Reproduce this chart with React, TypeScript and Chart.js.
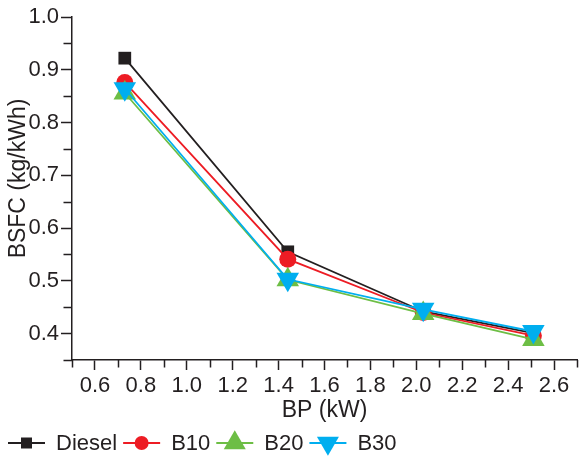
import React, { useEffect, useRef } from 'react';
import { Chart, registerables } from 'chart.js';

Chart.register(...registerables);

// Brake power (kW) at each load step
const BP = [0.73, 1.44, 2.03, 2.51];

// Brake specific fuel consumption (kg/kWh) per fuel
const DIESEL = [0.922, 0.555, 0.442, 0.401];
const B10 = [0.876, 0.541, 0.44, 0.396];
const B20 = [0.856, 0.502, 0.438, 0.389];
const B30 = [0.864, 0.503, 0.446, 0.404];

const SERIES_NAMES = ['Diesel', 'B10', 'B20', 'B30'];
const X_TITLE = 'BP (kW)';
const Y_TITLE = 'BSFC (kg/kWh)';

const X_MIN = 0.5;
const X_MAX = 2.7;
const X_STEP = 0.1;
const Y_MIN = 0.35;
const Y_MAX = 1.0;
const Y_STEP = 0.05;

const INK = '#231f20';
const FONT = '"Liberation Sans", Arial, Helvetica, sans-serif';

type Marker = 'square' | 'circle' | 'up' | 'down';

const STYLES: { color: string; marker: Marker }[] = [
  { color: '#231f20', marker: 'square' },
  { color: '#ed1c24', marker: 'circle' },
  { color: '#6dbe45', marker: 'up' },
  { color: '#00aeef', marker: 'down' },
];

const SERIES = [DIESEL, B10, B20, B30];

const isMajorX = (v: number) => Math.round(v * 10) % 2 === 0;
const isMajorY = (v: number) => Math.round(v * 100) % 10 === 0;

function drawMarker(ctx: CanvasRenderingContext2D, m: Marker, x: number, y: number, s: number) {
  ctx.beginPath();
  if (m === 'square') {
    ctx.rect(x - s / 2, y - s / 2, s, s);
  } else if (m === 'circle') {
    ctx.arc(x, y, s / 2, 0, Math.PI * 2);
  } else {
    const r = s / Math.sqrt(3);
    const dir = m === 'up' ? 1 : -1;
    ctx.moveTo(x, y - dir * r);
    ctx.lineTo(x + s / 2, y + dir * r / 2);
    ctx.lineTo(x - s / 2, y + dir * r / 2);
    ctx.closePath();
  }
  ctx.fill();
}

// Shorter tick marks between the labelled values
const minorTicks = {
  id: 'minorTicks',
  afterDraw(chart: any) {
    const { ctx, scales } = chart;
    const xs = scales.x;
    const ys = scales.y;
    ctx.save();
    ctx.strokeStyle = INK;
    ctx.lineWidth = 1.5;
    ctx.beginPath();
    xs.ticks.forEach((t: any) => {
      if (!isMajorX(t.value)) {
        const px = Math.round(xs.getPixelForValue(t.value)) + 0.5;
        ctx.moveTo(px, xs.top);
        ctx.lineTo(px, xs.top + 7.5);
      }
    });
    ys.ticks.forEach((t: any) => {
      if (!isMajorY(t.value)) {
        const py = Math.round(ys.getPixelForValue(t.value)) + 0.5;
        ctx.moveTo(ys.right, py);
        ctx.lineTo(ys.right - 8.5, py);
      }
    });
    ctx.stroke();
    ctx.restore();
  },
};

// Rotated y-axis title, sitting a little above the axis middle
const yTitle = {
  id: 'yTitle',
  afterDraw(chart: any) {
    const { ctx, chartArea } = chart;
    const cy = (chartArea.top + chartArea.bottom) / 2 - 10;
    ctx.save();
    ctx.translate(19, cy);
    ctx.rotate(-Math.PI / 2);
    ctx.font = `23px ${FONT}`;
    ctx.fillStyle = INK;
    ctx.textAlign = 'center';
    ctx.textBaseline = 'middle';
    ctx.fillText(Y_TITLE, 0, 0);
    ctx.restore();
  },
};

// Horizontal legend with a line segment through each marker
const lineLegend = {
  id: 'lineLegend',
  afterDraw(chart: any) {
    const { ctx } = chart;
    const y = 443;
    let x = 8;
    const lineLen = 37;
    ctx.save();
    ctx.font = `22px ${FONT}`;
    ctx.textBaseline = 'middle';
    ctx.textAlign = 'left';
    SERIES_NAMES.forEach((name, i) => {
      const st = STYLES[i];
      ctx.strokeStyle = st.color;
      ctx.fillStyle = st.color;
      ctx.lineWidth = 1.8;
      ctx.beginPath();
      ctx.moveTo(x, y);
      ctx.lineTo(x + lineLen, y);
      ctx.stroke();
      const size = st.marker === 'square' ? 11 : st.marker === 'circle' ? 14 : 22;
      drawMarker(ctx, st.marker, x + lineLen / 2, y, size);
      x += lineLen + 11;
      ctx.fillStyle = INK;
      ctx.fillText(name, x, y + 1);
      x += ctx.measureText(name).width + 6;
    });
    ctx.restore();
  },
};

export default function App() {
  const ref = useRef<HTMLCanvasElement | null>(null);

  useEffect(() => {
    if (!ref.current) return;
    const datasets = SERIES_NAMES.map((name, i) => {
      const st = STYLES[i];
      const pointStyle = st.marker === 'square' ? 'rect' : st.marker === 'circle' ? 'circle' : 'triangle';
      const radius = st.marker === 'square' ? 9 : st.marker === 'circle' ? 8.5 : 13;
      return {
        label: name,
        data: BP.map((x, j) => ({ x, y: SERIES[i][j] })),
        borderColor: st.color,
        backgroundColor: st.color,
        borderWidth: 1.8,
        pointStyle,
        pointRadius: radius,
        pointRotation: st.marker === 'down' ? 180 : 0,
        pointBorderWidth: 0,
        pointBackgroundColor: st.color,
        tension: 0,
        order: SERIES_NAMES.length - i,
      };
    });

    const chart = new Chart(ref.current, {
      type: 'line',
      data: { datasets: datasets as any },
      options: {
        animation: false,
        responsive: false,
        devicePixelRatio: 1,
        layout: { autoPadding: false, padding: { top: 17, right: 3, left: 0, bottom: 28 } },
        plugins: {
          legend: { display: false },
          tooltip: { enabled: false },
        },
        scales: {
          x: {
            type: 'linear',
            min: X_MIN,
            max: X_MAX,
            afterFit: (s: any) => {
              s.height = 70;
              s.paddingLeft = 0;
              s.paddingRight = 0;
            },
            border: { display: true, color: INK, width: 1.5 },
            grid: {
              display: true,
              drawOnChartArea: false,
              drawTicks: true,
              tickLength: 10,
              tickWidth: 1.5,
              tickColor: (c: any) => (c.tick && isMajorX(c.tick.value) ? INK : 'rgba(0,0,0,0)'),
            },
            ticks: {
              stepSize: X_STEP,
              autoSkip: false,
              maxRotation: 0,
              padding: 3,
              color: INK,
              font: { family: FONT, size: 22 },
              callback: (v: any) => (isMajorX(Number(v)) ? Number(v).toFixed(1) : ''),
            },
            title: {
              display: true,
              text: X_TITLE,
              color: INK,
              font: { family: FONT, size: 23, lineHeight: 1 },
              padding: { top: 0, bottom: 7.5 },
            },
          },
          y: {
            type: 'linear',
            min: Y_MIN,
            max: Y_MAX,
            afterFit: (s: any) => {
              s.width = 72;
              s.paddingTop = 0;
              s.paddingBottom = 0;
            },
            border: { display: true, color: INK, width: 1.5 },
            grid: {
              display: true,
              drawOnChartArea: false,
              drawTicks: true,
              tickLength: 11,
              tickWidth: 1.5,
              tickColor: (c: any) => (c.tick && isMajorY(c.tick.value) ? INK : 'rgba(0,0,0,0)'),
            },
            ticks: {
              stepSize: Y_STEP,
              autoSkip: false,
              padding: 2,
              color: INK,
              font: { family: FONT, size: 22 },
              callback: (v: any) => (isMajorY(Number(v)) ? Number(v).toFixed(1) : ''),
            },
            title: { display: false },
          },
        },
      },
      plugins: [minorTicks, yTitle, lineLegend],
    });
    return () => chart.destroy();
  }, []);

  return (
    <div style={{ position: 'absolute', left: 0, top: 0, width: 580, height: 458, background: '#fff' }}>
      <canvas ref={ref} width={580} height={458} style={{ display: 'block' }} />
    </div>
  );
}
